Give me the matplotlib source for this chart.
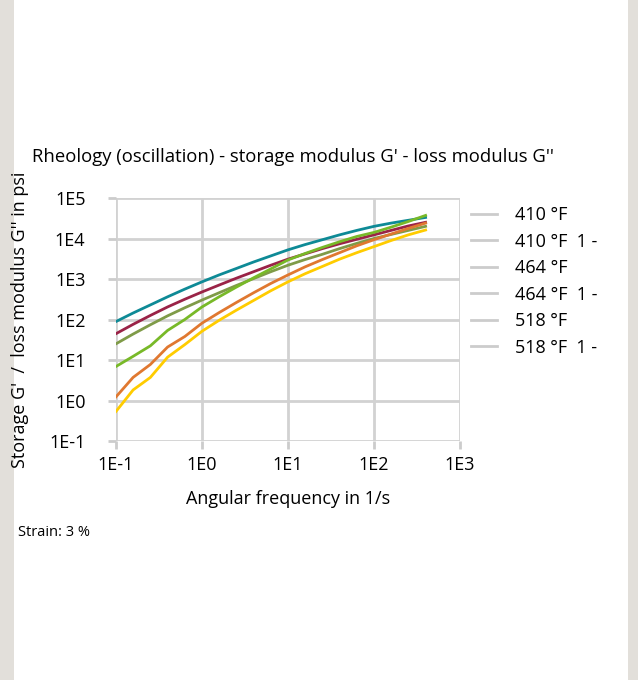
import matplotlib.pyplot as plt
from matplotlib.lines import Line2D
from matplotlib.patches import Rectangle

plt.rcParams['font.family'] = ['Open Sans', 'DejaVu Sans']

# angular frequency in 1/s (log10 steps of 0.2)
freq = [0.1, 0.158, 0.251, 0.398, 0.631, 1.0, 1.58, 2.51, 3.98, 6.31,
        10.0, 15.8, 25.1, 39.8, 63.1, 100.0, 158.0, 251.0, 398.0]

# log10 of modulus in psi
teal = [1.95, 2.16, 2.36, 2.56, 2.75, 2.93, 3.10, 3.26, 3.42, 3.57,
        3.72, 3.85, 3.97, 4.09, 4.20, 4.30, 4.38, 4.45, 4.52]
maroon = [1.65, 1.88, 2.10, 2.31, 2.50, 2.68, 2.85, 3.02, 3.18, 3.34,
          3.49, 3.62, 3.75, 3.87, 3.98, 4.09, 4.20, 4.31, 4.40]
olive = [1.40, 1.64, 1.87, 2.09, 2.29, 2.48, 2.66, 2.84, 3.01, 3.18,
         3.34, 3.48, 3.61, 3.75, 3.88, 4.00, 4.10, 4.20, 4.30]
green = [0.84, 1.09, 1.35, 1.73, 2.00, 2.31, 2.56, 2.80, 3.03, 3.25,
         3.47, 3.63, 3.78, 3.92, 4.05, 4.15, 4.28, 4.42, 4.57]
orange = [0.09, 0.57, 0.89, 1.32, 1.58, 1.91, 2.17, 2.42, 2.66, 2.89,
          3.10, 3.30, 3.48, 3.65, 3.82, 3.97, 4.11, 4.25, 4.38]
yellow = [-0.27, 0.26, 0.57, 1.07, 1.38, 1.71, 1.98, 2.23, 2.47, 2.71,
          2.93, 3.13, 3.31, 3.49, 3.65, 3.80, 3.95, 4.09, 4.21]

series = [teal, maroon, olive, green, orange, yellow]
colors = ['#0e8a96', '#9a2347', '#7f9b48', '#78b928', '#e07830', '#ffcc00']
labels = ['410 °F', '410 °F  1 -', '464 °F', '464 °F  1 -', '518 °F', '518 °F  1 -']

xticks = [0.1, 1, 10, 100, 1000]
xticklabels = ['1E-1', '1E0', '1E1', '1E2', '1E3']
yticks = [0.1, 1, 10, 100, 1000, 10000, 100000]
yticklabels = ['1E-1', '1E0', '1E1', '1E2', '1E3', '1E4', '1E5']

fig = plt.figure(figsize=(6.38, 6.8), dpi=100)
fig.patch.set_facecolor('white')
grey = '#e2dfda'
fig.patches.append(Rectangle((0, 0), 14 / 638, 1, transform=fig.transFigure,
                             facecolor=grey, edgecolor='none', zorder=0))
fig.patches.append(Rectangle((628 / 638, 0), 10 / 638, 1, transform=fig.transFigure,
                             facecolor=grey, edgecolor='none', zorder=0))

ax = fig.add_axes([116 / 638, 1 - 441 / 680, 344 / 638, 243 / 680])
for s, c in zip(series, colors):
    ax.plot(freq, [10 ** v for v in s], color=c, lw=2.0, zorder=3)

ax.set_xscale('log')
ax.set_yscale('log')
ax.set_xlim(0.1, 1000)
ax.set_ylim(0.1, 100000)
ax.set_xticks(xticks)
ax.set_xticklabels(xticklabels)
ax.set_yticks(yticks)
ax.set_yticklabels(yticklabels)
ax.minorticks_off()
ax.tick_params(labelsize=13, color='#cccccc', width=2, length=6)
ax.tick_params(axis='y', pad=16)
ax.tick_params(axis='x', pad=5)
for sp in ax.spines.values():
    sp.set_visible(False)
ax.grid(True, color='#d2d2d2', lw=2)
ax.set_axisbelow(True)

ax.set_xlabel('Angular frequency in 1/s', fontsize=13, labelpad=11)
fig.text(20 / 638, 1 - 320 / 680, "Storage G'  /  loss modulus G'' in psi",
         rotation=90, fontsize=13, ha='center', va='center')
fig.text(32 / 638, 1 - 157 / 680,
         "Rheology (oscillation) - storage modulus G' - loss modulus G''",
         fontsize=13.3, ha='left', va='center')
fig.text(18 / 638, 1 - 533 / 680, 'Strain: 3 %', fontsize=10.5, ha='left', va='center')

handles = [Line2D([], [], color='#cccccc', lw=2) for _ in labels]
fig.legend(handles, labels, loc='upper left', bbox_to_anchor=(464 / 638, 1 - 199 / 680),
           frameon=False, fontsize=13, handlelength=1.4, handletextpad=1.0,
           labelspacing=0.47, borderaxespad=0)

fig.savefig('out.png', dpi=100)
